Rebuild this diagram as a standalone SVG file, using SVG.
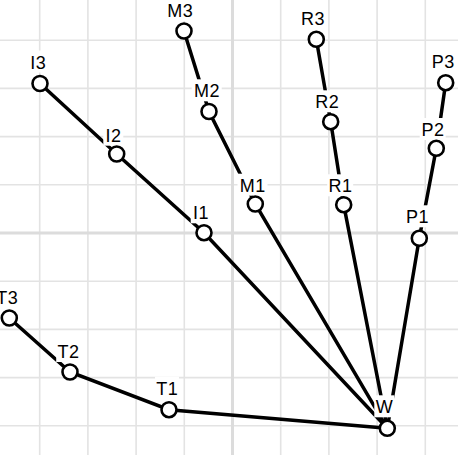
<svg xmlns="http://www.w3.org/2000/svg" width="458" height="455" viewBox="0 0 458 455">
<style>
.g{stroke:#e3e3e3;stroke-width:1.6;fill:none}
.gc{stroke:#dcdcdc;stroke-width:3;fill:none}
.e{stroke:#000;stroke-width:3.5;fill:none;stroke-linecap:round}
.n circle{fill:#fff;stroke:#000;stroke-width:2.6}
.n rect{fill:#fff}
.n text{font-family:"Liberation Sans",Arial,sans-serif;font-size:18px;letter-spacing:0.6px;text-anchor:middle;fill:#000}
</style>
<rect width="458" height="455" fill="#fff"/>
<g id="grid">
<path class="g" d="M39.7 0V455M87.9 0V455M136.1 0V455M184.3 0V455M280.7 0V455M328.9 0V455M377.1 0V455M425.3 0V455M0 40.2H458M0 88.4H458M0 136.6H458M0 184.8H458M0 281.2H458M0 329.4H458M0 377.6H458M0 425.8H458"/>
<path class="gc" d="M232.5 0V455M0 233H458"/>
</g>
<g id="connectors">
<path class="e" d="M387.3 428.3L169 409.7L70 372L9.3 318"/>
<path class="e" d="M387.3 428.3L204 232.7L116.7 154L40 83.5"/>
<path class="e" d="M387.3 428.3L255.3 204L209 111.5L184 31"/>
<path class="e" d="M387.3 428.3L343.7 204.7L330.7 121.7L316.3 39.3"/>
<path class="e" d="M387.3 428.3L419.3 238.3L436.3 148.3L445.7 82.7"/>
</g>
<g id="W" class="n"><rect x="374.3" y="395.3" width="20" height="22"/><text x="384.6" y="413.3">W</text><circle cx="387.3" cy="428.3" r="7.5"/></g>
<g id="T1" class="n"><rect x="155" y="376.7" width="24" height="22"/><text x="167.3" y="394.7">T1</text><circle cx="169" cy="409.7" r="7.5"/></g>
<g id="T2" class="n"><rect x="56.2" y="340" width="24" height="22"/><text x="68.5" y="358">T2</text><circle cx="70" cy="372" r="7.5"/></g>
<g id="T3" class="n"><rect x="-5" y="286" width="24" height="22"/><text x="7.3" y="304">T3</text><circle cx="9.3" cy="318" r="7.5"/></g>
<g id="I1" class="n"><rect x="190.7" y="201.3" width="20" height="22"/><text x="201" y="219.3">I1</text><circle cx="204" cy="232.7" r="7.5"/></g>
<g id="I2" class="n"><rect x="103.3" y="123.7" width="20" height="22"/><text x="113.6" y="141.7">I2</text><circle cx="116.7" cy="154" r="7.5"/></g>
<g id="I3" class="n"><rect x="28" y="50.5" width="20" height="22"/><text x="38.3" y="68.5">I3</text><circle cx="40" cy="83.5" r="7.5"/></g>
<g id="M1" class="n"><rect x="237.5" y="173.7" width="30" height="22"/><text x="252.8" y="191.7">M1</text><circle cx="255.3" cy="204" r="7.5"/></g>
<g id="M2" class="n"><rect x="191.7" y="79.3" width="30" height="22"/><text x="207" y="97.3">M2</text><circle cx="209" cy="111.5" r="7.5"/></g>
<g id="M3" class="n"><rect x="165" y="-1" width="30" height="22"/><text x="180.3" y="17">M3</text><circle cx="184" cy="31" r="7.5"/></g>
<g id="R1" class="n"><rect x="327.2" y="174.3" width="26" height="22"/><text x="340.5" y="192.3">R1</text><circle cx="343.7" cy="204.7" r="7.5"/></g>
<g id="R2" class="n"><rect x="314" y="90.3" width="26" height="22"/><text x="327.3" y="108.3">R2</text><circle cx="330.7" cy="121.7" r="7.5"/></g>
<g id="R3" class="n"><rect x="299.7" y="7" width="26" height="22"/><text x="313" y="25">R3</text><circle cx="316.3" cy="39.3" r="7.5"/></g>
<g id="P1" class="n"><rect x="404.3" y="205.3" width="26" height="22"/><text x="417.6" y="223.3">P1</text><circle cx="419.3" cy="238.3" r="7.5"/></g>
<g id="P2" class="n"><rect x="419.7" y="118" width="26" height="22"/><text x="433" y="136">P2</text><circle cx="436.3" cy="148.3" r="7.5"/></g>
<g id="P3" class="n"><rect x="430" y="50.3" width="26" height="22"/><text x="443.3" y="68.3">P3</text><circle cx="445.7" cy="82.7" r="7.5"/></g>
</svg>
